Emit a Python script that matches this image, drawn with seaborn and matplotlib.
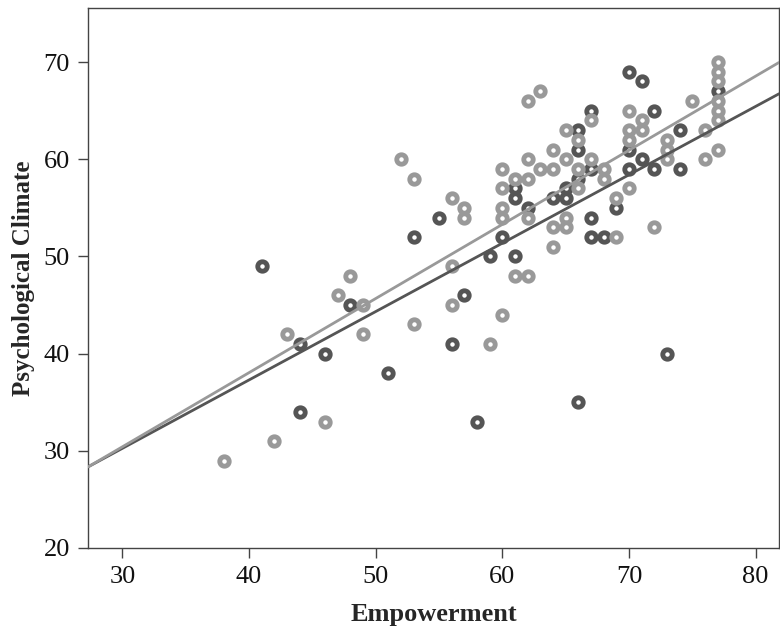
import numpy as np
import pandas as pd
import matplotlib
matplotlib.use("Agg")
import matplotlib.pyplot as plt
import seaborn as sns

# ── data (two groups) ─────────────────────────────────────────────────────────
dark_x = [41, 44, 44, 46, 48, 51, 53, 55, 56, 57, 58, 59, 60, 61, 61, 61, 62, 64,
          65, 65, 66, 66, 66, 66, 67, 67, 67, 67, 68, 69, 70, 70, 70, 71, 71, 72,
          72, 73, 74, 74, 77]
dark_y = [49, 41, 34, 40, 45, 38, 52, 54, 41, 46, 33, 50, 52, 57, 56, 50, 55, 56,
          57, 56, 63, 61, 58, 35, 65, 59, 54, 52, 52, 55, 69, 61, 59, 68, 60, 65,
          59, 40, 63, 59, 67]

light_x = [38, 42, 43, 46, 47, 48, 49, 49, 52, 53, 53, 56, 56, 56, 57, 57, 59, 60,
           60, 60, 60, 60, 61, 61, 62, 62, 62, 62, 62, 63, 63, 64, 64, 64, 64, 65,
           65, 65, 65, 66, 66, 66, 67, 67, 68, 68, 69, 69, 70, 70, 70, 70, 71, 71,
           72, 73, 73, 73, 75, 76, 76, 77, 77, 77, 77, 77, 77, 77]
light_y = [29, 31, 42, 33, 46, 48, 45, 42, 60, 58, 43, 56, 49, 45, 55, 54, 41, 59,
           57, 55, 54, 44, 58, 48, 66, 60, 58, 54, 48, 67, 59, 61, 59, 53, 51, 63,
           60, 54, 53, 62, 59, 57, 64, 60, 59, 58, 56, 52, 65, 63, 62, 57, 64, 63,
           53, 62, 61, 60, 66, 63, 60, 70, 69, 68, 66, 65, 64, 61]

df = pd.concat([
    pd.DataFrame({"Empowerment": dark_x, "Climate": dark_y, "group": "A"}),
    pd.DataFrame({"Empowerment": light_x, "Climate": light_y, "group": "B"}),
], ignore_index=True)

palette = {"A": "#555555", "B": "#999999"}

sns.set_theme(style="white")
plt.rcParams["font.family"] = ["Liberation Serif", "DejaVu Serif"]

fig = plt.figure(figsize=(7.8, 6.32), dpi=100)
ax = fig.add_axes([88 / 780, 1 - 548 / 632, 691 / 780, 540 / 632])
ax.set_xlim(27.28, 81.85)
ax.set_ylim(20, 75.56)

for grp in ["A", "B"]:
    sub = df[df["group"] == grp]
    sns.scatterplot(
        data=sub, x="Empowerment", y="Climate", ax=ax,
        marker="o", s=46, facecolor="white", edgecolor=palette[grp],
        linewidth=3.5, zorder=2, legend=False,
    )

# fit lines span the whole x range, as in the original
for grp in ["A", "B"]:
    sub = df[df["group"] == grp]
    sns.regplot(
        data=sub, x="Empowerment", y="Climate", ax=ax, scatter=False,
        ci=None, truncate=False, color=palette[grp],
        line_kws={"linewidth": 2.0, "zorder": 3},
    )

ax.set_xlim(27.28, 81.85)
ax.set_ylim(20, 75.56)
ax.set_xticks([30, 40, 50, 60, 70, 80])
ax.set_yticks([20, 30, 40, 50, 60, 70])
ax.tick_params(axis="both", which="major", direction="out", length=7, width=1,
               color="#444444", labelsize=19, labelcolor="#111111", pad=6,
               bottom=True, left=True)
for sp in ax.spines.values():
    sp.set_color("#444444")
    sp.set_linewidth(1.0)

ax.set_xlabel("Empowerment", fontsize=19, fontweight="bold", labelpad=11)
ax.set_ylabel("Psychological Climate", fontsize=18, fontweight="bold", labelpad=6)

fig.savefig("out.png", dpi=100)
